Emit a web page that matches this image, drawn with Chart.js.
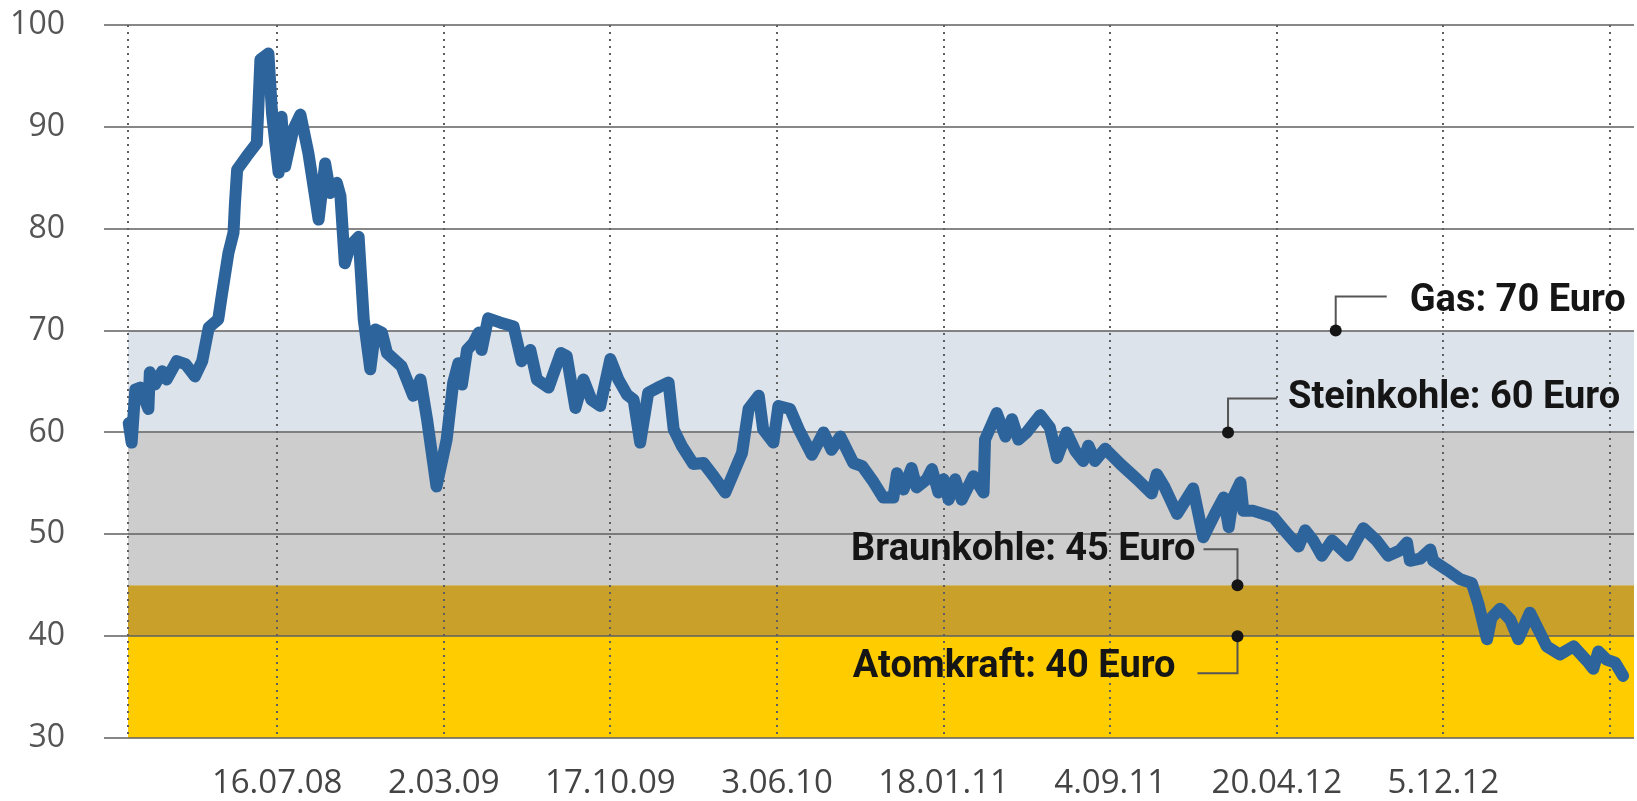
<!DOCTYPE html>
<html>
<head>
<meta charset="utf-8">
<script src="https://cdn.jsdelivr.net/npm/chart.js@4.4.1/dist/chart.umd.min.js"></script>
<style>
  body { margin: 0; background: #fff; }
  #wrap { width: 1637px; height: 801px; }
</style>
</head>
<body>
<div id="wrap"><canvas id="price_chart"></canvas></div>
<script>
// days counted from 16.07.08, price in Euro per MWh
var days = [
  -204, -200, -195, -188, -177, -175, -168, -158, -152, -138, -126, -113, -103, -94, -81, -76,
  -67, -60, -58, -55, -42, -28, -23, -12, -7, 2, 6, 11, 22, 32, 43, 57, 66, 73, 82, 87, 93, 100,
  112, 119, 128, 135, 144, 151, 171, 187, 197, 206, 219, 233, 242, 249, 254, 261, 270, 277, 281,
  290, 306, 325, 336, 348, 357, 373, 390, 398, 410, 421, 432, 444, 458, 469, 481, 490, 499, 510,
  526, 538, 545, 556, 572, 586, 600, 616, 639, 648, 662, 668, 682, 689, 705, 717, 735, 751, 762,
  774, 792, 804, 820, 833, 847, 852, 861, 872, 879, 893, 900, 909, 916, 923, 932, 941, 957, 971,
  973, 989, 1001, 1010, 1019, 1030, 1049, 1062, 1072, 1085, 1097, 1108, 1115, 1124, 1138, 1159,
  1182, 1202, 1209, 1220, 1237, 1259, 1273, 1289, 1301, 1308, 1314, 1324, 1328, 1342, 1369, 1388,
  1404, 1413, 1424, 1436, 1450, 1472, 1493, 1511, 1527, 1543, 1553, 1557, 1571, 1585, 1589, 1608,
  1626, 1642, 1651, 1663, 1669, 1681, 1695, 1706, 1722, 1745, 1763, 1782, 1800, 1809, 1816, 1827,
  1839, 1850
];
var prices = [
  60.9, 59.0, 64.2, 64.4, 62.3, 65.9, 64.7, 66.0, 65.2, 67.0, 66.7, 65.5, 67.0, 70.3, 71.1, 73.5,
  77.6, 79.6, 82.5, 85.8, 87.1, 88.4, 96.6, 97.2, 91.3, 85.5, 91.0, 86.1, 89.7, 91.2, 87.4, 80.9, 86.4, 83.5, 84.5, 83.2, 76.6, 78.3,
  79.2, 71.1, 66.2, 70.1, 69.8, 67.8, 66.5, 63.6, 65.2, 61.3, 54.7, 59.3, 64.9, 66.8, 64.7, 68.1, 68.8, 69.8, 68.1,
  71.2, 70.8, 70.4, 67.0, 68.1, 65.2, 64.4, 67.8, 67.5, 62.4, 65.2, 63.2, 62.6, 67.2, 65.2, 63.7, 63.2, 59.0, 63.9,
  64.5, 64.9, 60.3, 58.7, 56.9, 57.0, 55.7, 54.1, 58.0, 62.3, 63.6, 60.3, 59.0, 62.6, 62.3, 60.3, 57.8, 60.0, 58.3,
  59.6, 57.0, 56.7, 55.1, 53.6, 53.6, 56.0, 54.4, 56.5, 54.6, 55.4, 56.4, 54.1, 55.4, 53.4, 55.4, 53.4, 55.7, 54.1,
  59.3, 61.9, 59.6, 61.3, 59.3, 60.0, 61.7, 60.5, 57.5, 60.0, 58.2, 57.2, 58.7, 57.2, 58.4, 56.9,
  55.4, 54.0, 55.9, 54.6, 52.0, 54.5, 49.7, 52.0, 53.6, 50.7, 53.6, 55.1, 52.3, 52.3, 51.7, 50.1,
  48.8, 50.4, 49.4, 47.9, 49.4, 47.9, 50.6, 49.4, 47.9, 48.4, 49.2, 47.4, 47.6, 48.5, 47.4, 46.5,
  45.6, 45.2, 43.2, 39.7, 41.8, 42.7, 41.6, 39.7, 42.3, 39.0, 38.2, 39.0, 37.6, 36.8, 38.5, 37.7,
  37.4, 36.1
];
var tickDays = [-205, 0, 229, 458, 687, 916, 1145, 1374, 1603, 1832];
var tickLabels = ['', '16.07.08', '2.03.09', '17.10.09', '3.06.10', '18.01.11', '4.09.11', '20.04.12', '5.12.12', ''];

// cost bands: bottom, top, name
var bandFloors = [30, 40, 45, 60];
var bandCeilings = [40, 45, 60, 70];
var bandNames = ['Atomkraft', 'Braunkohle', 'Steinkohle', 'Gas'];
var bandAnchorDays = [1320, 1320, 1307, 1455];

var bandColors = ['#ffcc00', '#c8a02a', '#cdcdcd', '#dde3ea'];
// leader layout in pixels relative to the dot: [legY, legX, textX, textY, align]
var leaderLayout = [
  [37, -40, -62, 31, 'right'],
  [-36, -34, -42, -35, 'right'],
  [-34, 49, 60, -34, 'left'],
  [-34, 51, 74, -29, 'left']
];

var bandsPlugin = {
  id: 'bands',
  beforeDraw: function(chart) {
    var ctx = chart.ctx, area = chart.chartArea;
    var x = chart.scales.x, y = chart.scales.y;
    var left = x.getPixelForValue(tickDays[0]);
    ctx.save();
    for (var i = 0; i < bandFloors.length; i++) {
      var top = y.getPixelForValue(bandCeilings[i]);
      var bottom = y.getPixelForValue(bandFloors[i]);
      ctx.fillStyle = bandColors[i];
      ctx.fillRect(left, top, area.right - left, bottom - top);
    }
    ctx.restore();
  }
};

var labelsPlugin = {
  id: 'bandLabels',
  afterDatasetsDraw: function(chart) {
    var ctx = chart.ctx;
    var x = chart.scales.x, y = chart.scales.y;
    ctx.save();
    for (var i = 0; i < bandNames.length; i++) {
      var px = x.getPixelForValue(bandAnchorDays[i]);
      var py = y.getPixelForValue(bandCeilings[i]);
      var l = leaderLayout[i];
      ctx.strokeStyle = '#555';
      ctx.lineWidth = 2;
      ctx.beginPath();
      ctx.moveTo(px, py);
      ctx.lineTo(px, py + l[0]);
      ctx.lineTo(px + l[1], py + l[0]);
      ctx.stroke();
      ctx.fillStyle = '#151515';
      ctx.beginPath();
      ctx.arc(px, py, 6, 0, Math.PI * 2);
      ctx.fill();
      ctx.font = 'bold 38px Roboto';
      ctx.textAlign = l[4];
      ctx.textBaseline = 'middle';
      ctx.fillText(bandNames[i] + ': ' + bandCeilings[i] + ' Euro', px + l[2], py + l[3]);
    }
    ctx.restore();
  }
};

var priceChart = new Chart(document.getElementById('price_chart'), {
  type: 'line',
  data: {
    datasets: [{
      data: days.map(function(d, i) { return {x: d, y: prices[i]}; }),
      borderColor: '#2e649c',
      borderWidth: 12,
      borderJoinStyle: 'round',
      borderCapStyle: 'round',
      pointRadius: 0,
      tension: 0,
      fill: false
    }]
  },
  options: {
    responsive: true,
    maintainAspectRatio: false,
    animation: false,
    layout: {padding: {top: 25, right: 3, left: 0, bottom: 0}},
    plugins: {legend: {display: false}, tooltip: {enabled: false}},
    scales: {
      x: {
        type: 'linear',
        min: -238,
        max: 1865,
        afterBuildTicks: function(scale) {
          scale.ticks = tickDays.map(function(v) { return {value: v}; });
        },
        afterFit: function(scale) { scale.height = 63; },
        grid: {color: '#5f5f5f', lineWidth: 2, drawTicks: false},
        border: {display: false, dash: [2, 5]},
        ticks: {
          autoSkip: false,
          maxRotation: 0,
          padding: 26,
          color: '#444',
          font: {family: 'Open Sans', size: 33},
          callback: function(value) {
            var i = tickDays.indexOf(value);
            return i >= 0 ? tickLabels[i] : '';
          }
        }
      },
      y: {
        min: 30,
        max: 100,
        afterFit: function(scale) {
          scale.width = 104;
          // label padding must not push the plot area down
          scale.paddingTop = 0;
          scale.paddingBottom = 0;
        },
        grid: {color: 'rgba(95,95,95,0.75)', lineWidth: 2, drawTicks: false},
        border: {display: false},
        ticks: {
          stepSize: 10,
          padding: 39,
          color: '#555',
          font: {family: 'Open Sans', size: 32}
        }
      }
    }
  },
  plugins: [bandsPlugin, labelsPlugin]
});
</script>
</body>
</html>
